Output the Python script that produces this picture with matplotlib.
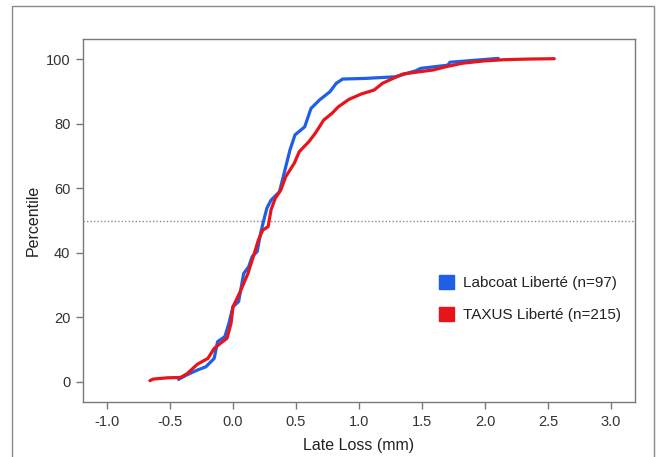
import matplotlib
matplotlib.use("Agg")
import matplotlib.pyplot as plt
from matplotlib.patches import Rectangle, Patch

plt.rcParams['font.family'] = ['Liberation Sans', 'DejaVu Sans']

labcoat_x = [-0.432, -0.366, -0.282, -0.215, -0.149, -0.122, -0.065, -0.032, 0.0, 0.045,
             0.085, 0.125, 0.152, 0.192, 0.219, 0.245, 0.269, 0.302, 0.369, 0.392,
             0.452, 0.492, 0.569, 0.619, 0.686, 0.770, 0.820, 0.870, 1.053, 1.287,
             1.454, 1.488, 1.705, 1.721, 2.105]
labcoat_y = [0.8, 2.2, 3.7, 4.7, 7.3, 12.5, 14.0, 18.2, 23.3, 24.9,
             33.6, 35.7, 38.8, 40.4, 46.0, 50.2, 53.8, 56.3, 58.9, 62.5,
             71.8, 76.5, 79.0, 84.7, 87.3, 89.9, 92.5, 93.8, 94.0, 94.5,
             96.4, 97.1, 98.1, 99.0, 100.2]

taxus_x = [-0.659, -0.633, -0.516, -0.416, -0.366, -0.282, -0.199, -0.149, -0.098, -0.048,
           -0.015, 0.0, 0.052, 0.119, 0.169, 0.202, 0.236, 0.279, 0.302, 0.336,
           0.379, 0.419, 0.486, 0.526, 0.602, 0.653, 0.720, 0.786, 0.836, 0.920,
           1.020, 1.120, 1.187, 1.270, 1.354, 1.488, 1.588, 1.688, 1.821, 1.988,
           2.155, 2.356, 2.549]
taxus_y = [0.4, 0.9, 1.3, 1.4, 2.5, 5.5, 7.3, 10.4, 12.0, 13.5,
           18.2, 23.3, 27.5, 33.6, 39.8, 44.0, 47.0, 48.1, 53.3, 56.9,
           59.4, 63.6, 67.7, 71.3, 74.4, 77.0, 81.1, 83.2, 85.2, 87.5,
           89.2, 90.4, 92.5, 94.0, 95.4, 96.1, 96.6, 97.6, 98.7, 99.4,
           99.8, 100.0, 100.1]

x_ticks = [-1.0, -0.5, 0.0, 0.5, 1.0, 1.5, 2.0, 2.5, 3.0]
y_ticks = [0, 20, 40, 60, 80, 100]
labels = ["Labcoat Libert\u00e9 (n=97)", "TAXUS Libert\u00e9 (n=215)"]
colors = ["#1f5fe6", "#e8141c"]

fig = plt.figure(figsize=(6.56, 4.57), dpi=100)
fig.patches.append(Rectangle((12/656, -0.02), (654-12)/656, 1.02 - 6/457,
                             transform=fig.transFigure, fill=False,
                             edgecolor="#8a8a8a", linewidth=1.0))
ax = fig.add_axes([83/656, 1-402/457, (635-83)/656, (402-39)/457])

ax.axhline(50, color="#8c8c8c", linestyle=(0, (1, 1.5)), linewidth=1.0, zorder=1)
ax.plot(labcoat_x, labcoat_y, color=colors[0], linewidth=2.3, zorder=3, solid_capstyle='round')
ax.plot(taxus_x, taxus_y, color=colors[1], linewidth=2.3, zorder=4, solid_capstyle='round')

ax.set_xlim(-1.19, 3.19)
ax.set_ylim(-6.2, 106.2)
ax.set_xticks(x_ticks)
ax.set_xticklabels([f"{v:.1f}" for v in x_ticks])
ax.set_yticks(y_ticks)
for s in ax.spines.values():
    s.set_color("#7a7a7a")
    s.set_linewidth(1.0)
ax.tick_params(direction='out', length=5, width=1, color="#7a7a7a",
               labelcolor="#333333", labelsize=10.5, pad=4)
ax.set_xlabel("Late Loss (mm)", fontsize=11.5, color="#222222", labelpad=7)
ax.set_ylabel("Percentile", fontsize=11.5, color="#222222", labelpad=4)

handles = [Patch(facecolor=c, edgecolor=c) for c in colors]
ax.legend(handles, labels, loc='center left', bbox_to_anchor=(0.62, 0.285),
          frameon=False, fontsize=11, handlelength=1.0, handleheight=1.0,
          handletextpad=0.6, labelspacing=1.1, labelcolor="#222222")

fig.savefig("out.png", dpi=100)
